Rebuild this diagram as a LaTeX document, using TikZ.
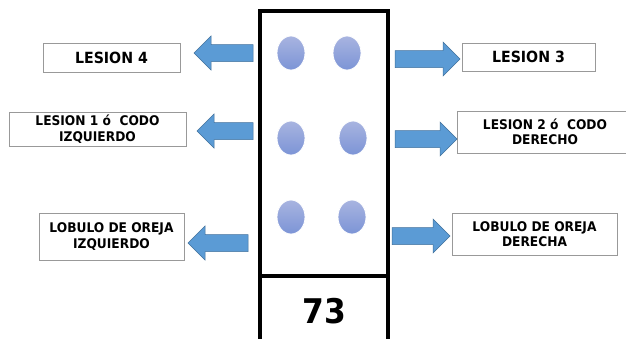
\documentclass[tikz,border=0pt]{standalone}
\usepackage{fontspec}
\setmainfont{DejaVu Sans}[FakeStretch=0.92]
\usetikzlibrary{shapes.geometric}
\definecolor{dotTop}{RGB}{168,180,224}
\definecolor{dotBot}{RGB}{124,148,214}
\definecolor{arFill}{RGB}{91,155,213}
\definecolor{arLine}{RGB}{65,113,156}
\newcommand{\arrowLeft}[4]{% name, xtip, xtail, yc
  \draw[barrow] (#2,#4) -- (#2+17,#4-17) -- (#2+17,#4-8.5) -- (#3,#4-8.5) -- (#3,#4+8.5) -- (#2+17,#4+8.5) -- (#2+17,#4+17) -- cycle;
  \coordinate (#1) at (#2,#4);}
\newcommand{\arrowRight}[4]{% name, xtail, xtip, yc
  \draw[barrow] (#3,#4) -- (#3-17,#4-17) -- (#3-17,#4-8.5) -- (#2,#4-8.5) -- (#2,#4+8.5) -- (#3-17,#4+8.5) -- (#3-17,#4+17) -- cycle;
  \coordinate (#1) at (#3,#4);}
\begin{document}
\begin{tikzpicture}[x=1pt,y=-1pt,
  lbl/.style={draw=black!40,line width=0.6pt,fill=white,inner sep=0pt,align=center,
    font=\bfseries\fontsize{13.3}{15.5}\selectfont},
  big/.style={font=\bfseries\fontsize{15.4}{16}\selectfont},
  dot/.style={ellipse,minimum width=28pt,minimum height=34pt,inner sep=0pt,draw=white,line width=0.8pt,
    top color=dotTop,bottom color=dotBot},
  barrow/.style={fill=arFill,draw=arLine,line width=0.5pt},
  frame/.style={draw=black,line width=3.2pt}]
\useasboundingbox (0,0) rectangle (626,338);
\fill[white] (0,0) rectangle (626,338);
% main frame
\draw[frame] (260,11) rectangle (388,350);
\draw[frame] (260,276) -- (388,276);
\node[font=\bfseries\fontsize{34}{34}\selectfont] (num) at (324,311) {73};
% dots
\node[dot] (d1) at (291,53) {};
\node[dot] (d2) at (347,53) {};
\node[dot] (d3) at (291,138) {};
\node[dot] (d4) at (353,138) {};
\node[dot] (d5) at (291,217) {};
\node[dot] (d6) at (352,217) {};
% labels
\node[lbl,big,minimum width=137pt,minimum height=29pt] (b1) at (111.5,57.5) {LESION 4};
\node[lbl,minimum width=177pt,minimum height=34pt] (b2) at (97.5,129) {LESION 1 ó\ \ CODO\\IZQUIERDO};
\node[lbl,big,minimum width=133pt,minimum height=28pt] (b3) at (528.5,57) {LESION 3};
\node[lbl,minimum width=176pt,minimum height=42pt] (b4) at (545,132) {LESION 2 ó\ \ CODO\\DERECHO};
\node[lbl,minimum width=145pt,minimum height=47pt] (b5) at (111.5,236.5) {LOBULO DE OREJA\\IZQUIERDO};
\node[lbl,minimum width=165pt,minimum height=42pt] (b6) at (534.5,234) {LOBULO DE OREJA\\DERECHA};
% arrows
\arrowLeft{a1}{194}{253}{53}
\arrowLeft{a2}{197}{253}{131}
\arrowRight{a3}{395}{460}{59}
\arrowRight{a4}{395}{457}{139}
\arrowLeft{a5}{188}{248}{243}
\arrowRight{a6}{392}{450}{236}
\end{tikzpicture}
\end{document}
